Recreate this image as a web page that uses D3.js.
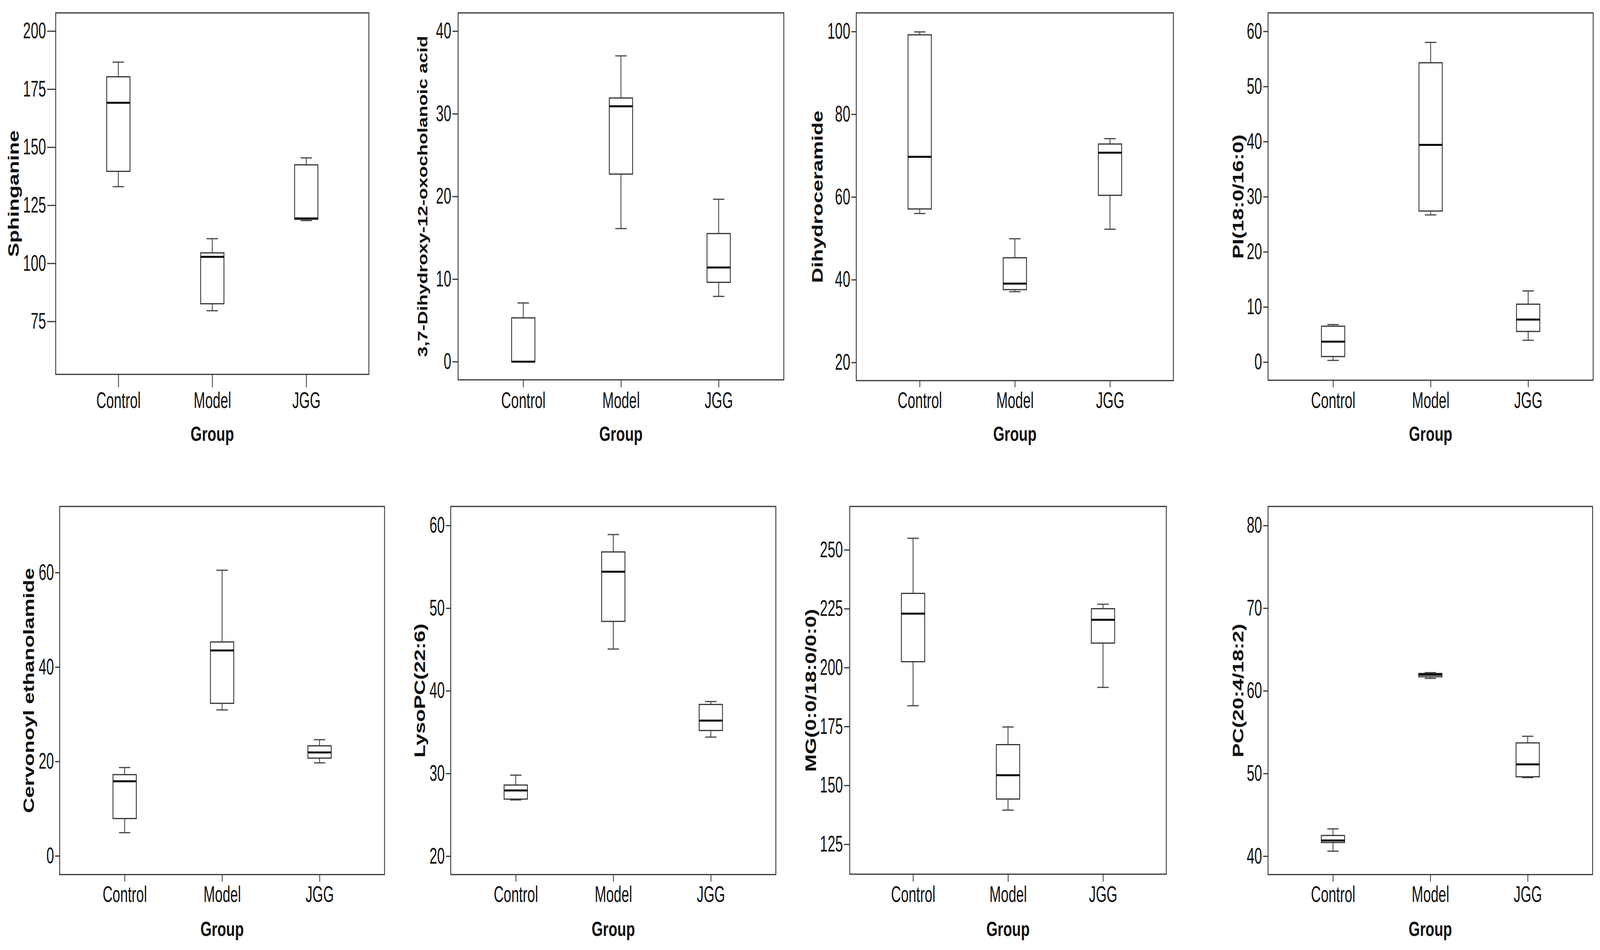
<!DOCTYPE html>
<html>
<head>
<meta charset="utf-8">
<script src="https://cdn.jsdelivr.net/npm/d3@7"></script>
<style>
  html, body { margin: 0; padding: 0; background: #fff; overflow: hidden; }
  svg { display: block; }
</style>
</head>
<body>
<div id="chart"></div>
<script>
// ---- data ----
const groups = ["Control", "Model", "JGG"];

const metabolites = [
  "Sphinganine",
  "3,7-Dihydroxy-12-oxocholanoic acid",
  "Dihydroceramide",
  "PI(18:0/16:0)",
  "Cervonoyl ethanolamide",
  "LysoPC(22:6)",
  "MG(0:0/18:0/0:0)",
  "PC(20:4/18:2)"
];

// y axis ranges and tick labels per panel
const yDomains = [
  [52.2, 207.8], [-2.2, 42.2], [15.6, 104.5], [-3.3, 63.35],
  [-3.97, 74.0], [17.77, 62.3], [112.3, 268.4], [37.77, 82.3]
];
const yTicks = [
  [75, 100, 125, 150, 175, 200],
  [0, 10, 20, 30, 40],
  [20, 40, 60, 80, 100],
  [0, 10, 20, 30, 40, 50, 60],
  [0, 20, 40, 60],
  [20, 30, 40, 50, 60],
  [125, 150, 175, 200, 225, 250],
  [40, 50, 60, 70, 80]
];

// box plot statistics, one row per panel, values for Control / Model / JGG
const maxVals = [
  [186.6, 110.6, 145.4], [7.1, 37.0, 19.65], [99.9, 49.9, 74.1], [6.8, 58.0, 12.9],
  [18.7, 60.5, 24.6], [29.8, 58.9, 38.7], [254.9, 174.8, 226.9], [43.3, 62.2, 54.5]
];
const q3Vals = [
  [180.3, 104.5, 142.4], [5.3, 31.9, 15.5], [99.2, 45.3, 72.8], [6.5, 54.3, 10.5],
  [17.2, 45.3, 23.3], [28.6, 56.8, 38.35], [231.5, 167.3, 225.0], [42.5, 62.1, 53.7]
];
const medianVals = [
  [169.1, 102.8, 119.3], [0, 30.9, 11.4], [69.7, 39.05, 70.7], [3.7, 39.4, 7.7],
  [15.8, 43.5, 21.9], [27.95, 54.4, 36.4], [222.9, 154.3, 220.3], [41.9, 61.95, 51.1]
];
const q1Vals = [
  [139.6, 82.6, 119.0], [0, 22.7, 9.6], [57.1, 37.6, 60.4], [1.0, 27.4, 5.55],
  [7.9, 32.3, 20.7], [26.9, 48.4, 35.2], [202.5, 144.2, 210.4], [41.65, 61.7, 49.6]
];
const minVals = [
  [133.0, 79.6, 118.4], [0, 16.1, 7.9], [56.0, 37.1, 52.2], [0.3, 26.7, 3.95],
  [4.9, 30.9, 19.7], [26.8, 45.05, 34.4], [183.8, 139.5, 191.6], [40.6, 61.5, 49.5]
];

// ---- layout (pixel frame of each panel in a 5630 x 2431 canvas) ----
const layout = [
  {x0: 196,  y0: 33,   x1: 1298, y1: 958,  row: 0, yTick: 30, titleOff: 145, titleSize: 54},
  {x0: 1612, y0: 33,   x1: 2758, y1: 972,  row: 0, yTick: 20, titleOff: 121, titleSize: 48},
  {x0: 3013, y0: 33,   x1: 4129, y1: 974,  row: 0, yTick: 17, titleOff: 133, titleSize: 54},
  {x0: 4462, y0: 33,   x1: 5606, y1: 973,  row: 0, yTick: 17, titleOff: 101, titleSize: 54},
  {x0: 210,  y0: 1296, x1: 1353, y1: 2238, row: 1, yTick: 16, titleOff: 105, titleSize: 54},
  {x0: 1586, y0: 1296, x1: 2730, y1: 2238, row: 1, yTick: 17, titleOff: 105, titleSize: 54},
  {x0: 2990, y0: 1296, x1: 4104, y1: 2237, row: 1, yTick: 20, titleOff: 133, titleSize: 54},
  {x0: 4462, y0: 1296, x1: 5604, y1: 2238, row: 1, yTick: 17, titleOff: 101, titleSize: 54}
];
const rows = [
  {tickEnd: 991,  labelBase: 1044, groupBase: 1128},
  {tickEnd: 2256, labelBase: 2308, groupBase: 2395}
];

const plainFont = "'Liberation Sans', Arial, sans-serif";
const squeeze = 0.85;   // tick labels in the figure are a condensed face

// the drawing is laid out on a 5630 x 2431 canvas and stretched to the window
const svg = d3.select("#chart")
  .append("svg")
  .attr("viewBox", "0 0 5630 2431")
  .attr("preserveAspectRatio", "none")
  .style("width", "100vw")
  .style("height", "100vh");

svg.append("rect").attr("width", 5630).attr("height", 2431).attr("fill", "#fff");

// condense a selection of labels horizontally
function condense(sel) {
  sel.each(function() {
    const w = this.getComputedTextLength();
    d3.select(this)
      .attr("textLength", w * squeeze)
      .attr("lengthAdjust", "spacingAndGlyphs");
  });
}

metabolites.forEach((name, i) => {
  const L = layout[i];
  const R = rows[L.row];
  const width = L.x1 - L.x0;
  const height = L.y1 - L.y0;

  const g = svg.append("g")
    .attr("transform", `translate(${L.x0},${L.y0})`);

  // scales: groups sit at 20%, 50%, 80% of the frame
  const x = d3.scalePoint()
    .domain(groups)
    .range([0, width])
    .padding(2 / 3);

  const y = d3.scaleLinear()
    .domain(yDomains[i])
    .range([height, 0]);

  // y axis
  const yAxis = g.append("g")
    .call(d3.axisLeft(y).tickValues(yTicks[i]).tickSize(L.yTick).tickPadding(4));
  yAxis.select(".domain").remove();
  yAxis.selectAll("line").attr("stroke", "#333").attr("stroke-width", 3);
  yAxis.selectAll("text")
    .attr("font-family", plainFont)
    .attr("font-size", 57)
    .attr("fill", "#111")
    .call(condense);

  // x axis
  const xAxis = g.append("g")
    .attr("transform", `translate(0,${height})`)
    .call(d3.axisBottom(x).tickSize(R.tickEnd - L.y1).tickPadding(0));
  xAxis.select(".domain").remove();
  xAxis.selectAll("line").attr("stroke", "#444").attr("stroke-width", 3);
  xAxis.selectAll("text")
    .attr("y", R.labelBase - L.y1)
    .attr("dy", 0)
    .attr("font-family", plainFont)
    .attr("font-size", 57)
    .attr("fill", "#111")
    .call(condense);

  // frame
  g.append("rect")
    .attr("width", width)
    .attr("height", height)
    .attr("fill", "none")
    .attr("stroke", "#333")
    .attr("stroke-width", 3);

  // axis titles
  g.append("text")
    .attr("x", width / 2)
    .attr("y", R.groupBase - L.y0)
    .attr("text-anchor", "middle")
    .attr("font-family", plainFont)
    .attr("font-weight", "bold")
    .attr("font-size", 51)
    .attr("fill", "#111")
    .text("Group");

  g.append("text")
    .attr("transform", `translate(${-L.titleOff},${height / 2}) rotate(-90)`)
    .attr("text-anchor", "middle")
    .attr("dy", "0.27em")
    .attr("font-family", plainFont)
    .attr("font-weight", "bold")
    .attr("font-size", L.titleSize)
    .attr("fill", "#111")
    .text(name);

  // boxes
  const boxWidth = 82;
  const capWidth = 40;
  groups.forEach((grp, j) => {
    const cx = x(grp);
    const s = {
      max: maxVals[i][j], q3: q3Vals[i][j], med: medianVals[i][j],
      q1: q1Vals[i][j], min: minVals[i][j]
    };

    // whiskers
    g.append("line")
      .attr("x1", cx).attr("x2", cx)
      .attr("y1", y(s.max)).attr("y2", y(s.q3))
      .attr("stroke", "#444").attr("stroke-width", 3);
    g.append("line")
      .attr("x1", cx).attr("x2", cx)
      .attr("y1", y(s.q1)).attr("y2", y(s.min))
      .attr("stroke", "#444").attr("stroke-width", 3);
    [s.max, s.min].forEach(v => {
      g.append("line")
        .attr("x1", cx - capWidth / 2).attr("x2", cx + capWidth / 2)
        .attr("y1", y(v)).attr("y2", y(v))
        .attr("stroke", "#444").attr("stroke-width", 3);
    });

    // box from q1 to q3
    g.append("rect")
      .attr("x", cx - boxWidth / 2)
      .attr("y", y(s.q3))
      .attr("width", boxWidth)
      .attr("height", Math.max(0, y(s.q1) - y(s.q3)))
      .attr("fill", "#fff")
      .attr("stroke", "#333")
      .attr("stroke-width", 3);

    // median
    g.append("line")
      .attr("x1", cx - boxWidth / 2).attr("x2", cx + boxWidth / 2)
      .attr("y1", y(s.med)).attr("y2", y(s.med))
      .attr("stroke", "#000").attr("stroke-width", 5);
  });
});
</script>
</body>
</html>
